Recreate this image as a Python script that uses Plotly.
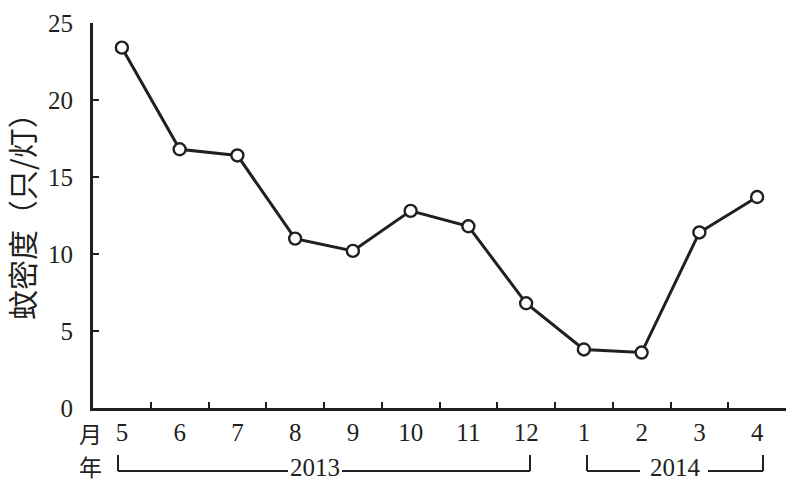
import plotly.graph_objects as go

# ---------- DATA ----------
MONTHS = ["5", "6", "7", "8", "9", "10", "11", "12", "1", "2", "3", "4"]
DENSITY = [23.4, 16.8, 16.4, 11.0, 10.2, 12.8, 11.8, 6.8, 3.8, 3.6, 11.4, 13.7]
YEARS = ["2013", "2014"]
Y_TICKS = [0, 5, 10, 15, 20, 25]

# ---------- LAYOUT HELPERS ----------
W, H = 800, 490
L, R, T, B = 93, 14, 23, 82
PW, PH = W - L - R, H - T - B


def px(x):
    return (x - L) / PW


def py(y):
    return (H - B - y) / PH


SERIF = "Liberation Serif"
CJK = "Noto Sans CJK SC"
INK = "#231f20"

fig = go.Figure()
fig.add_trace(go.Scatter(
    x=MONTHS, y=DENSITY, mode="lines+markers",
    line=dict(color=INK, width=3),
    marker=dict(symbol="circle", size=12, color="white",
                line=dict(color=INK, width=2.4)),
    cliponaxis=False, showlegend=False,
))

# year brackets (pixel positions)
brackets = [
    (118, 530, 288, 342, 315, YEARS[0]),
    (587, 763, 640, 708, 675, YEARS[1]),
]
shapes = []
annotations = []
line_style = dict(color=INK, width=2)
for x0, x1, g0, g1, xt, label in brackets:
    for a, b in [(x0, g0), (g1, x1)]:
        shapes.append(dict(type="line", xref="paper", yref="paper",
                           x0=px(a), x1=px(b), y0=py(471), y1=py(471), line=line_style))
    for xv in (x0, x1):
        shapes.append(dict(type="line", xref="paper", yref="paper",
                           x0=px(xv), x1=px(xv), y0=py(455), y1=py(471), line=line_style))
    annotations.append(dict(text=label, xref="paper", yref="paper", x=px(xt), y=py(467),
                            xanchor="center", yanchor="middle",
                            showarrow=False, font=dict(family=SERIF, size=25, color=INK)))

annotations += [
    dict(text="月", xref="paper", yref="paper", x=px(90), y=py(433), showarrow=False,
         xanchor="center", yanchor="middle", font=dict(family=CJK, size=23, color=INK)),
    dict(text="年", xref="paper", yref="paper", x=px(90), y=py(466), showarrow=False,
         xanchor="center", yanchor="middle", font=dict(family=CJK, size=23, color=INK)),
    dict(text="蚊密度（只/灯）", xref="paper", yref="paper", x=px(21), y=py(209),
         xanchor="center", yanchor="middle", textangle=-90, showarrow=False,
         font=dict(family=CJK, size=30, color=INK)),
]

fig.update_layout(
    width=W, height=H,
    margin=dict(l=L, r=R, t=T, b=B, autoexpand=False),
    plot_bgcolor="white", paper_bgcolor="white",
    shapes=shapes, annotations=annotations,
    xaxis=dict(
        type="category", tickson="boundaries", ticks="inside", ticklen=6, tickwidth=2,
        tickcolor=INK, showline=True, linecolor=INK, linewidth=3, automargin=False,
        showgrid=False, zeroline=False, range=[-0.5, 11.5],
        tickfont=dict(family=SERIF, size=25, color=INK),
    ),
    yaxis=dict(
        range=[0, 25], tickvals=Y_TICKS, ticks="inside", ticklen=6, tickwidth=2,
        tickcolor=INK, showline=True, linecolor=INK, linewidth=3, automargin=False,
        showgrid=False, zeroline=False, ticklabelstandoff=12,
        tickfont=dict(family=SERIF, size=25, color=INK),
    ),
)

# page body has an 8px default margin; drop it so the figure fills the window
fig.write_html("out.html", config={"displayModeBar": False},
               post_script="document.body.style.margin='0';")
